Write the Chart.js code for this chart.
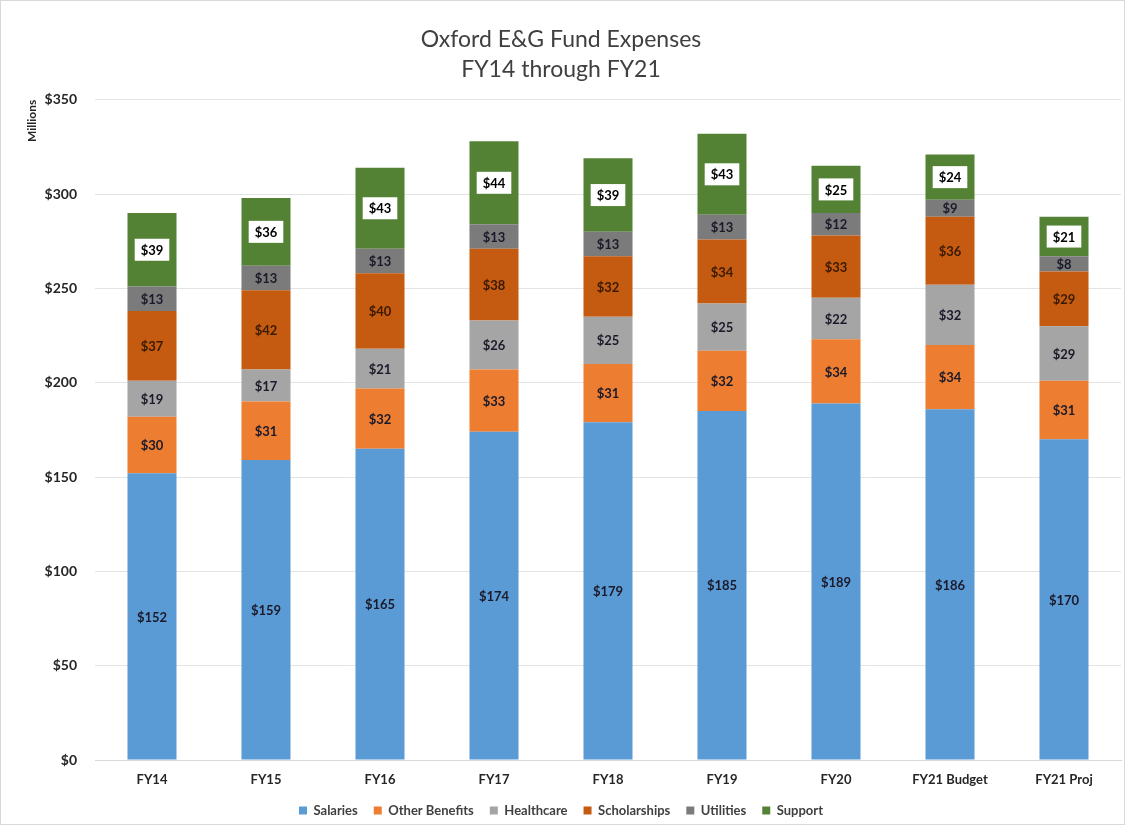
<!DOCTYPE html>
<html>
<head>
<meta charset="utf-8">
<script src="https://cdn.jsdelivr.net/npm/chart.js@4/dist/chart.umd.min.js"></script>
<style>
  html, body { margin: 0; padding: 0; background: #fff; }
  #wrap { width: 1125px; height: 825px; box-sizing: border-box; border: 1px solid #d9d9d9; }
</style>
</head>
<body>
<div id="wrap"><canvas id="chart-expenses" width="1123" height="823"></canvas></div>
<script>
// Oxford E&G fund expenses, millions
const labels_fy = ['FY14', 'FY15', 'FY16', 'FY17', 'FY18', 'FY19', 'FY20', 'FY21 Budget', 'FY21 Proj'];

const salaries      = [152, 159, 165, 174, 179, 185, 189, 186, 170];
const otherBenefits = [30, 31, 32, 33, 31, 32, 34, 34, 31];
const healthcare    = [19, 17, 21, 26, 25, 25, 22, 32, 29];
const scholarships  = [37, 42, 40, 38, 32, 34, 33, 36, 29];
const utilities     = [13, 13, 13, 13, 13, 13, 12, 9, 8];
const support       = [39, 36, 43, 44, 39, 43, 25, 24, 21];

const yTicks = [0, 50, 100, 150, 200, 250, 300, 350];

const fontFam = 'Lato, "Open Sans", sans-serif';

// labels inside each segment, support ones get a white box
const segLabels = {
  id: 'segLabels',
  afterDatasetsDraw(chart) {
    const ctx = chart.ctx;
    ctx.save();
    ctx.font = 'bold 13px ' + fontFam;
    ctx.textAlign = 'center';
    ctx.textBaseline = 'middle';
    chart.data.datasets.forEach((ds, i) => {
      const meta = chart.getDatasetMeta(i);
      meta.data.forEach((bar, j) => {
        const txt = '$' + ds.data[j];
        const y = (bar.y + bar.base) / 2;
        if (ds.label === 'Support') {
          const w = ctx.measureText(txt).width + 12;
          ctx.fillStyle = '#ffffff';
          ctx.fillRect(bar.x - w / 2, y - 11, w, 22);
          ctx.fillStyle = '#000000';
        } else if (ds.label === 'Scholarships') {
          ctx.fillStyle = '#3a1a00';
        } else {
          ctx.fillStyle = '#1a1a2a';
        }
        ctx.fillText(txt, bar.x, y + 1);
      });
    });
    ctx.restore();
  }
};

const data_exp = {
  labels: labels_fy,
  datasets: [
    { label: 'Salaries', data: salaries, backgroundColor: '#5b9bd5' },
    { label: 'Other Benefits', data: otherBenefits, backgroundColor: '#ed7d31' },
    { label: 'Healthcare', data: healthcare, backgroundColor: '#a5a5a5' },
    { label: 'Scholarships', data: scholarships, backgroundColor: '#c55a11' },
    { label: 'Utilities', data: utilities, backgroundColor: '#7b7b7b' },
    { label: 'Support', data: support, backgroundColor: '#548235' }
  ]
};

const config_exp = {
  type: 'bar',
  data: data_exp,
  plugins: [segLabels],
  options: {
    responsive: false,
    animation: false,
    layout: { padding: { left: 0, right: 3, top: 0, bottom: 0 } },
    datasets: { bar: { categoryPercentage: 1, barPercentage: 0.43 } },
    plugins: {
      title: {
        display: true,
        text: ['Oxford E&G Fund Expenses', 'FY14 through FY21'],
        color: '#404040',
        font: { family: fontFam, size: 23, weight: 'normal', lineHeight: 1.3 },
        padding: { top: 24, bottom: 15 }
      },
      legend: {
        position: 'bottom',
        maxHeight: 36,
        labels: {
          boxWidth: 8, boxHeight: 8, padding: 16,
          color: '#404040',
          font: { family: fontFam, size: 13, weight: 'bold' }
        }
      },
      tooltip: { enabled: false }
    },
    scales: {
      x: {
        stacked: true,
        afterFit(scale) { scale.height = 28; },
        grid: { display: false, drawTicks: false },
        border: { color: '#d9d9d9' },
        ticks: { padding: 12, color: '#262626', font: { family: fontFam, size: 13, weight: 'bold' } }
      },
      y: {
        stacked: true,
        min: 0, max: 350,
        afterFit(scale) { scale.width = 94; },
        afterBuildTicks(scale) { scale.ticks = yTicks.map(v => ({ value: v })); },
        ticks: {
          padding: 18,
          color: '#262626',
          font: { family: fontFam, size: 14, weight: 'bold' },
          callback: v => '$' + v
        },
        grid: { color: '#e3e3e3', drawTicks: false },
        border: { display: false },
        title: {
          display: true, text: 'Millions', align: 'end',
          padding: { top: 24, bottom: 0 },
          color: '#262626',
          font: { family: fontFam, size: 12, weight: 'bold' }
        }
      }
    }
  }
};

const myChart_exp = new Chart(document.getElementById('chart-expenses'), config_exp);
</script>
</body>
</html>
